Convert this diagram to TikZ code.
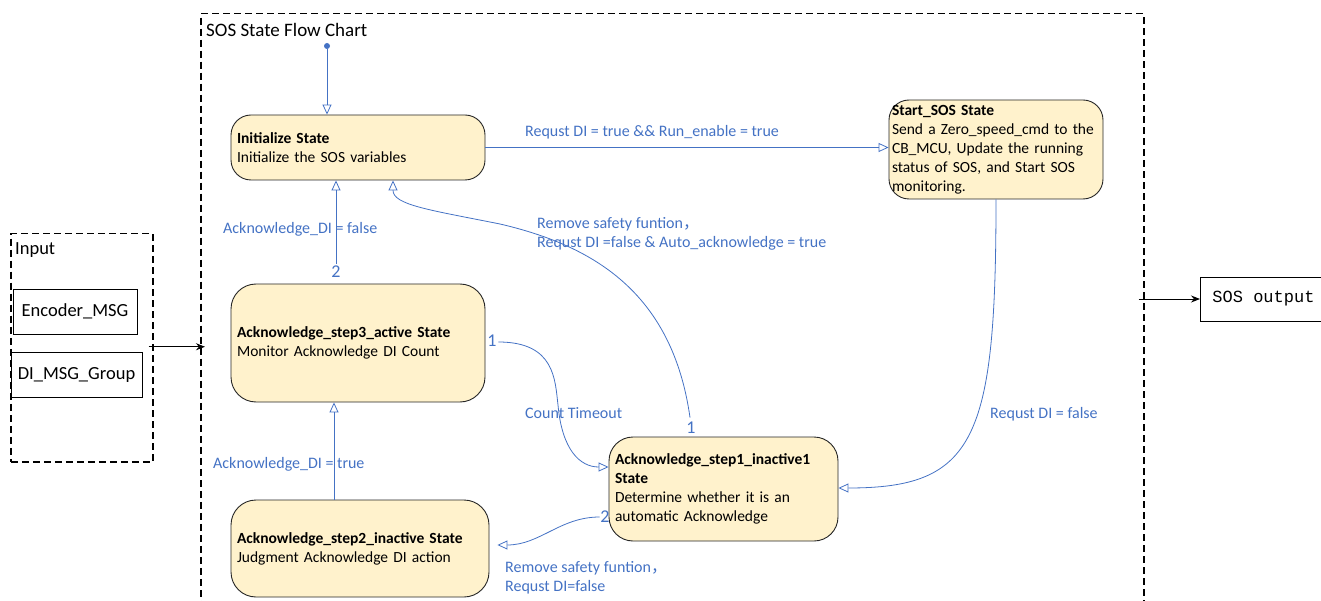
\documentclass[tikz,border=0pt]{standalone}
\usepackage{fontspec}
\setmainfont{Carlito}
\newfontfamily\cjk{Noto Sans CJK SC}
\newfontfamily\monof{Liberation Mono}
\usetikzlibrary{arrows.meta,calc}
\definecolor{lblue}{HTML}{4472C4}
\definecolor{sfill}{HTML}{FFF2CC}
\newcommand{\fc}{{\cjk ，}}
\tikzset{
 state/.style={draw=black!85, fill=sfill, rounded corners=20pt, line width=0.9pt, align=left, inner xsep=6pt, inner ysep=0pt, font=\fontsize{15.5}{19}\selectfont},
 conn/.style={draw=lblue, line width=0.8pt, -{Triangle[open,length=10pt,width=9pt]}},
 lbl/.style={text=lblue, font=\fontsize{16}{19}\selectfont, inner sep=0pt, align=left},
 num/.style={text=lblue, font=\fontsize{18}{20}\selectfont, inner sep=0pt},
 frame/.style={draw=black, line width=1.5pt, dash pattern=on 7pt off 4pt, inner sep=0pt},
 box/.style={draw=black, line width=0.9pt, inner sep=0pt, font=\fontsize{18.5}{22}\selectfont},
 blk/.style={draw=black, line width=0.9pt, -{Stealth[length=9pt,width=7pt]}},
 big/.style={inner sep=0pt, font=\fontsize{19}{22}\selectfont}
}
\begin{document}
\begin{tikzpicture}[x=1pt,y=-1pt]
\useasboundingbox (0,0) rectangle (1321,601);
% frames
\node[frame, minimum width=943pt, minimum height=640pt, anchor=north west] (chart) at (200,13) {};
\node[big, anchor=west] (title) at (206,30) {SOS State Flow Chart};
\node[frame, minimum width=142pt, minimum height=228pt, anchor=north west] (inframe) at (10,233) {};
\node[big, anchor=west, font=\fontsize{18.5}{22}\selectfont] (inlbl) at (15,250) {Input};
\node[box, minimum width=124pt, minimum height=45pt] (enc) at (75,311.5) {Encoder\_MSG};
\node[box, minimum width=131pt, minimum height=45pt] (dimsg) at (76.5,374.5) {DI\_MSG\_Group};
\node[box, anchor=west, minimum height=44pt, inner xsep=12pt, font=\monof\fontsize{17}{20}\selectfont] (out) at (1200,299) {SOS output};
% states
\node[state, text width=242pt, minimum height=65pt] (init) at (358,147.5) {\textbf{Initialize State}\\Initialize the SOS variables};
\node[state, text width=208pt, inner xsep=3pt, minimum height=99pt] (start) at (996,149.5) {\textbf{Start\_SOS State}\\Send a Zero\_speed\_cmd to the\\CB\_MCU, Update the running\\status of SOS, and Start SOS\\monitoring.};
\node[state, text width=242pt, minimum height=118pt, rounded corners=25pt] (ack3) at (358,343) {\textbf{Acknowledge\_step3\_active State}\\Monitor Acknowledge DI Count};
\node[state, text width=217pt, minimum height=104pt, rounded corners=24pt] (ack1) at (723.5,489) {\textbf{Acknowledge\_step1\_inactive1}\\\textbf{State}\\Determine whether it is an\\automatic Acknowledge};
\node[state, text width=246pt, minimum height=97pt, rounded corners=25pt] (ack2) at (360,548.5) {\textbf{Acknowledge\_step2\_inactive State}\\Judgment Acknowledge DI action};
% initial dot
\node[circle, fill=lblue, inner sep=0pt, minimum size=6pt] (dot) at (327,46) {};
\draw[conn] (dot) -- (init.north -| dot);
% connectors
\draw[conn] (init.east) -- (init.east -| start.west);
\draw[conn] ($(ack3.north)+(-22,-20)$) -- ($(init.south)+(-22,0)$);
\draw[conn] ($(ack1.north)+(-33.5,-19)$) .. controls (672,290) and (590,245) .. (500,224) .. controls (430,210) and (393,205) .. ($(init.south)+(35,0)$);
\draw[conn] ($(ack3.east)+(13,-1)$) .. controls (555,342) and (555,380) .. (558,405) .. controls (562,450) and (580,467) .. ($(ack1.west)+(0,-22)$);
\draw[conn] ($(ack2.north)+(-26,0)$) -- ($(ack3.south)+(-24,0)$);
\draw[conn] ($(ack1.west)+(-9,28)$) .. controls (560,517) and (540,545) .. ($(ack2.east)+(8,-3.5)$);
\draw[conn] (start.south) .. controls (996,440) and (975,488) .. ($(ack1.east)+(0,-1)$);
% black arrows
\draw[blk] ($(inframe.east)+(-5,-1)$) -- ($(inframe.east -| chart.west)+(5,-1)$);
\draw[blk] ($(out.west -| chart.east)+(-6,0)$) -- (out.west);
% labels
\node[lbl, anchor=west] (l1) at (525,132) {Requst DI = true \&\& Run\_enable = true};
\node[lbl, anchor=west] (l2) at (537,233.5) {Remove safety funtion\fc\\Requst DI =false \& Auto\_acknowledge = true};
\node[lbl, anchor=west] (l3) at (223,229) {Acknowledge\_DI = false};
\node[num] (n2a) at (336,272) {2};
\node[num] (n1a) at (492,341) {1};
\node[lbl, anchor=west] (l4) at (525,413) {Count Timeout};
\node[num] (n1b) at (691,428) {1};
\node[lbl, anchor=west] (l5) at (990,414) {Requst DI = false};
\node[lbl, anchor=west] (l6) at (213,464) {Acknowledge\_DI = true};
\node[num] (n2b) at (605,517) {2};
\node[lbl, anchor=west] (l7) at (505,577.5) {Remove safety funtion\fc\\Requst DI=false};
\end{tikzpicture}
\end{document}
